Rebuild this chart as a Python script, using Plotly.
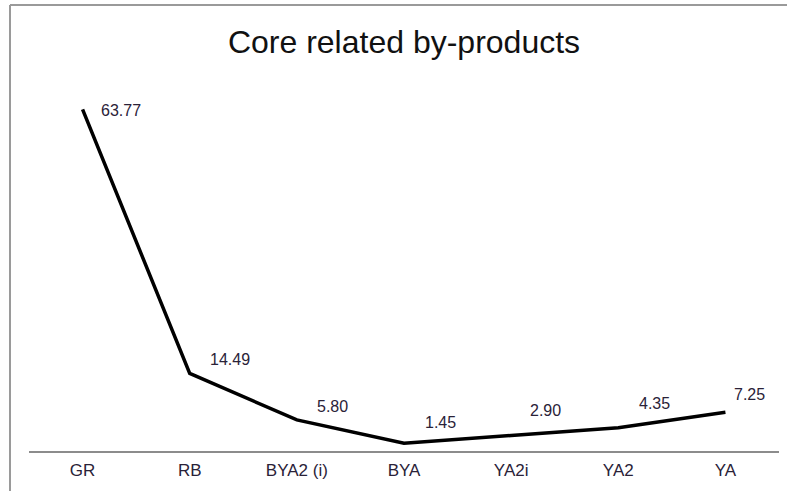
import plotly.graph_objects as go

categories = ["GR", "RB", "BYA2 (i)", "BYA", "YA2i", "YA2", "YA"]
values = [63.77, 14.49, 5.80, 1.45, 2.90, 4.35, 7.25]
labels = ["63.77", "14.49", "5.80", "1.45", "2.90", "4.35", "7.25"]

W, H = 787, 491
ml, mr, mt, mb = 29, 8, 76, 40
pw, ph = W - ml - mr, H - mt - mb

def px(xp):
    return (xp - ml) / pw

def py(yp):
    return (H - mb - yp) / ph

fig = go.Figure()
fig.add_trace(go.Scatter(
    x=categories, y=values, mode="lines",
    line=dict(color="black", width=3.5),
    hoverinfo="skip", showlegend=False,
))

label_shifts = [(16, -1), (18, 14), (18, 13), (19, 21), (17, 25), (19, 24), (7, 18)]
for c, v, t, (dx, dy) in zip(categories, values, labels, label_shifts):
    fig.add_annotation(x=c, y=v, text=t, showarrow=False,
                       xanchor="left", yanchor="middle",
                       xshift=dx, yshift=dy,
                       font=dict(family="Liberation Sans, Arial", size=16, color="#2a2238"))

# outer frame (top and left edges)
fig.add_shape(type="line", xref="paper", yref="paper",
              x0=px(10), x1=px(W + 5), y0=py(5), y1=py(5),
              line=dict(color="#9a9a9a", width=2))
fig.add_shape(type="line", xref="paper", yref="paper",
              x0=px(10), x1=px(10), y0=py(5), y1=py(H + 5),
              line=dict(color="#9a9a9a", width=2))

fig.update_layout(
    width=W, height=H,
    margin=dict(l=ml, r=mr, t=mt, b=mb),
    paper_bgcolor="white", plot_bgcolor="white",
    hovermode=False,
    title=dict(text="Core related by-products", x=0.5, xanchor="center",
               xref="paper", y=1 - 42 / H, yanchor="middle",
               font=dict(family="Liberation Sans, Arial", size=32, color="#111")),
    xaxis=dict(type="category", range=[-0.5, 6.5], showgrid=False,
               showline=True, linecolor="#8c8c8c", linewidth=1.5,
               ticks="", zeroline=False, ticklabelstandoff=3,
               tickfont=dict(family="Liberation Sans, Arial", size=17, color="#2a2238")),
    yaxis=dict(range=[0, 70], visible=False, showgrid=False, zeroline=False),
)

fig.write_html("out.html", config={"displayModeBar": False, "staticPlot": True},
               post_script="document.body.style.margin='0';document.body.style.padding='0';")
